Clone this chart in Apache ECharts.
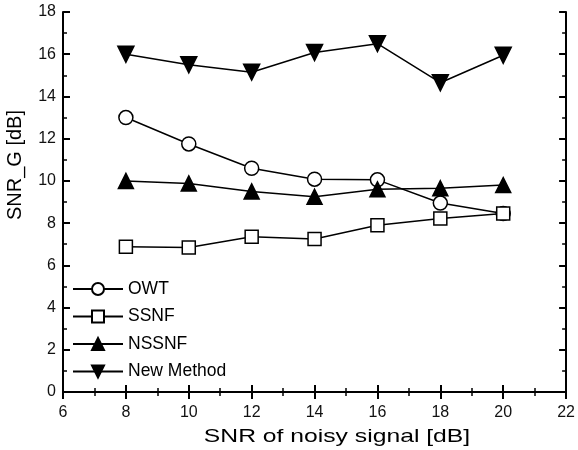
<!DOCTYPE html>
<html>
<head>
<meta charset="utf-8">
<script src="https://cdn.jsdelivr.net/npm/echarts@6/dist/echarts.min.js"></script>
<style>
html, body { margin: 0; padding: 0; background: #fff; }
#main { width: 578px; height: 450px; }
</style>
</head>
<body>
<div id="main"></div>
<script>
var snrNoisy = [8, 10, 12, 14, 16, 18, 20];
var owt = [13.0, 11.75, 10.6, 10.08, 10.05, 8.95, 8.45];
var ssnf = [6.88, 6.85, 7.35, 7.25, 7.9, 8.22, 8.45];
var nssnf = [10.0, 9.88, 9.5, 9.25, 9.6, 9.65, 9.8];
var newMethod = [16.0, 15.5, 15.15, 16.08, 16.5, 14.65, 15.95];

var downTri = 'path://M0,0 L12,0 L6,10 Z';

function pairs(vals) {
    return snrNoisy.map(function (x, i) { return [x, vals[i]]; });
}

function mkSeries(name, vals, symbol, size, fill) {
    return {
        name: name,
        type: 'line',
        data: pairs(vals),
        symbol: symbol,
        symbolSize: size,
        showSymbol: true,
        lineStyle: { color: '#000', width: 1.5 },
        itemStyle: { color: fill, borderColor: '#000', borderWidth: 1.5 },
        emphasis: { disabled: true },
        z: 3
    };
}

// shared axis look: black frame, ticks pointing in
function frameAxis(extra) {
    return Object.assign({
        type: 'value',
        axisLine: { lineStyle: { color: '#000', width: 2 } },
        axisTick: { inside: true, length: 7, lineStyle: { color: '#000', width: 2 } },
        minorTick: { show: true, splitNumber: 2, length: 4, lineStyle: { color: '#000', width: 1.5 } },
        splitLine: { show: false },
        axisLabel: { show: false }
    }, extra);
}

var tickFont = { fontFamily: 'Liberation Sans, Arial, sans-serif', fontSize: 16, color: '#111' };

var myChart = echarts.init(document.getElementById('main'));
var option = {
    backgroundColor: '#fff',
    animation: false,
    grid: { left: 63, right: 10, top: 12, bottom: 58 },
    legend: {
        orient: 'vertical',
        left: 67,
        top: 275,
        itemWidth: 50,
        itemHeight: 15,
        itemGap: 9.5,
        textStyle: { fontFamily: 'Liberation Sans, Arial, sans-serif', fontSize: 17.5, color: '#000' },
        data: ['OWT', 'SSNF', 'NSSNF', 'New Method']
    },
    xAxis: [
        frameAxis({ min: 6, max: 22, interval: 2, axisLabel: Object.assign({ show: true, margin: 13 }, tickFont) }),
        frameAxis({ min: 6, max: 22, interval: 2, position: 'top' })
    ],
    yAxis: [
        frameAxis({ min: 0, max: 18, interval: 2, axisLabel: Object.assign({ show: true, margin: 7 }, tickFont) }),
        frameAxis({ min: 0, max: 18, interval: 2, position: 'right' })
    ],
    graphic: [{
        type: 'text',
        x: 337, y: 437,
        scaleX: 1.3,
        style: {
            text: 'SNR of noisy signal [dB]',
            fontFamily: 'Liberation Sans, Arial, sans-serif',
            fontSize: 19, fill: '#000',
            align: 'center', verticalAlign: 'middle'
        }
    }, {
        type: 'text',
        x: 15, y: 165,
        rotation: Math.PI / 2,
        style: {
            text: 'SNR_G [dB]',
            fontFamily: 'Liberation Sans, Arial, sans-serif',
            fontSize: 20, fill: '#000',
            align: 'center', verticalAlign: 'middle'
        }
    }],
    series: [
        mkSeries('OWT', owt, 'circle', 14, '#fff'),
        mkSeries('SSNF', ssnf, 'rect', 13, '#fff'),
        mkSeries('NSSNF', nssnf, 'triangle', 15, '#000'),
        mkSeries('New Method', newMethod, downTri, 16, '#000')
    ]
};
myChart.setOption(option);
</script>
</body>
</html>
